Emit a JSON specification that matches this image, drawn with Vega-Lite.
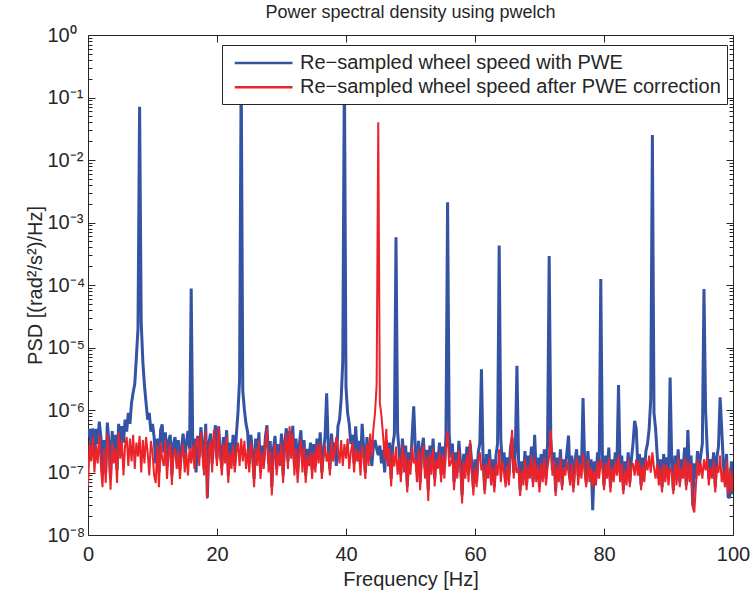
{
"$schema": "https://vega.github.io/schema/vega-lite/v6.json",
"width": 645, "height": 500,
"autosize": {"type": "none"},
"padding": {"left": 88, "top": 35, "right": 17, "bottom": 56},
"background": "white",
"config": {
  "font": "Liberation Sans",
  "view": {"stroke": "#262626", "strokeWidth": 1},
  "axis": {"grid": false, "domain": false, "labelColor": "#262626", "titleColor": "#262626", "tickColor": "#262626", "tickWidth": 1, "labelFontSize": 20, "titleFontSize": 20, "titleFontWeight": "normal", "labelFont": "Liberation Sans", "titleFont": "Liberation Sans"}
},
"title": {"text": "Power spectral density using pwelch", "fontSize": 18, "fontWeight": "normal", "color": "#262626", "font": "Liberation Sans", "offset": 3},
"data": {"values": [
{"freq":0,"pwe":3.7e-7,"corr":6e-8},{"freq":0.25,"pwe":5e-7,"corr":2.85e-7},{"freq":0.5,"pwe":2.4e-7,"corr":1.5e-7},{"freq":0.75,"pwe":5.1e-7,"corr":3.7e-7},
{"freq":1,"pwe":1.5e-7,"corr":1e-7},{"freq":1.25,"pwe":5e-7,"corr":2.7e-7},{"freq":1.5,"pwe":2.85e-7,"corr":1.4e-7},{"freq":1.75,"pwe":6.5e-7,"corr":4e-7},
{"freq":2,"pwe":3.7e-7,"corr":1.27e-7},{"freq":2.25,"pwe":9e-8,"corr":5.8e-8},{"freq":2.5,"pwe":3.3e-7,"corr":2.4e-7},{"freq":2.75,"pwe":1e-7,"corr":6.8e-8},
{"freq":3,"pwe":6.3e-7,"corr":4.2e-7},{"freq":3.25,"pwe":3e-7,"corr":1.9e-7},{"freq":3.5,"pwe":7.9e-8,"corr":5.3e-8},{"freq":3.75,"pwe":4.6e-7,"corr":3e-7},
{"freq":4,"pwe":1.8e-7,"corr":1.4e-7},{"freq":4.25,"pwe":4e-7,"corr":2.4e-7},{"freq":4.5,"pwe":1.1e-7,"corr":6.8e-8},{"freq":4.75,"pwe":6e-7,"corr":4.4e-7},
{"freq":5,"pwe":2.7e-7,"corr":1.66e-7},{"freq":5.25,"pwe":5.5e-7,"corr":3.3e-7},{"freq":5.5,"pwe":3e-7,"corr":9e-8},{"freq":5.75,"pwe":7e-7,"corr":2.7e-7},
{"freq":6,"pwe":4.5e-7,"corr":3.7e-7},{"freq":6.25,"pwe":9e-7,"corr":1.27e-7},{"freq":6.5,"pwe":6e-7,"corr":3.5e-7},{"freq":6.75,"pwe":1.3e-6,"corr":1.5e-7},
{"freq":7,"pwe":1.9e-6,"corr":4e-7},{"freq":7.25,"pwe":2.6e-6,"corr":1.14e-7},{"freq":7.5,"pwe":7e-6,"corr":3e-7},{"freq":7.75,"pwe":2e-5,"corr":1.8e-7},
{"freq":8,"pwe":7.1e-2,"corr":3.85e-7},{"freq":8.25,"pwe":2.5e-5,"corr":1e-7},{"freq":8.5,"pwe":6e-6,"corr":3.3e-7},{"freq":8.75,"pwe":2.5e-6,"corr":1.4e-7},
{"freq":9,"pwe":1.3e-6,"corr":3.7e-7},{"freq":9.25,"pwe":7e-7,"corr":2.1e-7},{"freq":9.5,"pwe":9e-7,"corr":9e-8},{"freq":9.75,"pwe":4.5e-7,"corr":3.2e-7},
{"freq":10,"pwe":6e-7,"corr":2.1e-7},{"freq":10.25,"pwe":3.7e-7,"corr":9e-8},{"freq":10.5,"pwe":1.4e-7,"corr":6.8e-8},{"freq":10.75,"pwe":3.5e-7,"corr":2.7e-7},
{"freq":11,"pwe":1e-7,"corr":5.8e-8},{"freq":11.25,"pwe":4.75e-7,"corr":3e-7},{"freq":11.5,"pwe":5.9e-7,"corr":1.66e-7},{"freq":11.75,"pwe":2.1e-7,"corr":1.27e-7},
{"freq":12,"pwe":4.4e-7,"corr":3.3e-7},{"freq":12.25,"pwe":1.27e-7,"corr":7.9e-8},{"freq":12.5,"pwe":3.2e-7,"corr":2.1e-7},{"freq":12.75,"pwe":4e-7,"corr":2.85e-7},
{"freq":13,"pwe":9e-8,"corr":6.3e-8},{"freq":13.25,"pwe":2.85e-7,"corr":1.94e-7},{"freq":13.5,"pwe":3.7e-7,"corr":2.4e-7},{"freq":13.75,"pwe":1.66e-7,"corr":1.14e-7},
{"freq":14,"pwe":3.3e-7,"corr":2.2e-7},{"freq":14.25,"pwe":1.14e-7,"corr":7.9e-8},{"freq":14.5,"pwe":2.5e-7,"corr":1.8e-7},{"freq":14.75,"pwe":4.2e-7,"corr":2.85e-7},
{"freq":15,"pwe":1.5e-7,"corr":1e-7},{"freq":15.25,"pwe":3e-7,"corr":2.1e-7},{"freq":15.5,"pwe":4.6e-7,"corr":9e-8},{"freq":15.75,"pwe":2.4e-7,"corr":2.5e-7},
{"freq":16,"pwe":8.8e-5,"corr":1.4e-7},{"freq":16.25,"pwe":2.1e-7,"corr":2.7e-7},{"freq":16.5,"pwe":3.5e-7,"corr":1.14e-7},{"freq":16.75,"pwe":1e-7,"corr":3e-7},
{"freq":17,"pwe":3.85e-7,"corr":3.7e-7},{"freq":17.25,"pwe":1.8e-7,"corr":1.27e-7},{"freq":17.5,"pwe":5.3e-7,"corr":4.4e-7},{"freq":17.75,"pwe":2.7e-7,"corr":1.94e-7},
{"freq":18,"pwe":1.14e-7,"corr":9e-8},{"freq":18.25,"pwe":6e-7,"corr":4.75e-7},{"freq":18.5,"pwe":4e-8,"corr":3.8e-8},{"freq":18.75,"pwe":3e-7,"corr":2.4e-7},
{"freq":19,"pwe":4.2e-7,"corr":3.2e-7},{"freq":19.25,"pwe":1.4e-7,"corr":1e-7},{"freq":19.5,"pwe":3e-7,"corr":4.75e-7},{"freq":19.75,"pwe":5.7e-7,"corr":2.7e-7},
{"freq":20,"pwe":1.66e-7,"corr":1.27e-7},{"freq":20.25,"pwe":5.5e-7,"corr":5.4e-7},{"freq":20.5,"pwe":2.2e-7,"corr":1.8e-7},{"freq":20.75,"pwe":1.27e-7,"corr":9e-8},
{"freq":21,"pwe":3.7e-7,"corr":2.85e-7},{"freq":21.25,"pwe":1.94e-7,"corr":1.4e-7},{"freq":21.5,"pwe":4.75e-7,"corr":3.7e-7},{"freq":21.75,"pwe":9e-8,"corr":6.8e-8},
{"freq":22,"pwe":3e-7,"corr":2.1e-7},{"freq":22.25,"pwe":1.66e-7,"corr":1.14e-7},{"freq":22.5,"pwe":4e-7,"corr":2.7e-7},{"freq":22.75,"pwe":1.27e-7,"corr":1e-7},
{"freq":23,"pwe":4e-7,"corr":2.1e-7},{"freq":23.25,"pwe":9e-7,"corr":3e-7},{"freq":23.5,"pwe":3e-6,"corr":1.27e-7},{"freq":23.75,"pwe":0.3,"corr":3.5e-7},
{"freq":24,"pwe":2e-6,"corr":1.5e-7},{"freq":24.25,"pwe":1e-6,"corr":3.2e-7},{"freq":24.5,"pwe":6e-7,"corr":1.14e-7},{"freq":24.75,"pwe":4.4e-7,"corr":2.4e-7},
{"freq":25,"pwe":1.4e-7,"corr":1e-7},{"freq":25.25,"pwe":4e-7,"corr":3e-7},{"freq":25.5,"pwe":2.1e-7,"corr":1.66e-7},{"freq":25.75,"pwe":7.9e-8,"corr":5.8e-8},
{"freq":26,"pwe":3.5e-7,"corr":2.5e-7},{"freq":26.25,"pwe":1.8e-7,"corr":1.27e-7},{"freq":26.5,"pwe":4.4e-7,"corr":3.2e-7},{"freq":26.75,"pwe":1e-7,"corr":7.9e-8},
{"freq":27,"pwe":2.7e-7,"corr":2.1e-7},{"freq":27.25,"pwe":1.5e-7,"corr":1.14e-7},{"freq":27.5,"pwe":3.7e-7,"corr":2.7e-7},{"freq":27.75,"pwe":5.7e-7,"corr":5.1e-7},
{"freq":28,"pwe":1.4e-7,"corr":1e-7},{"freq":28.25,"pwe":3.2e-7,"corr":2.2e-7},{"freq":28.5,"pwe":5.8e-8,"corr":4.3e-8},{"freq":28.75,"pwe":2.4e-7,"corr":1.8e-7},
{"freq":29,"pwe":3.85e-7,"corr":2.85e-7},{"freq":29.25,"pwe":1.14e-7,"corr":9e-8},{"freq":29.5,"pwe":2.85e-7,"corr":2.1e-7},{"freq":29.75,"pwe":1.66e-7,"corr":1.27e-7},
{"freq":30,"pwe":4.2e-7,"corr":3e-7},{"freq":30.25,"pwe":9e-8,"corr":6.8e-8},{"freq":30.5,"pwe":3e-7,"corr":2.4e-7},{"freq":30.75,"pwe":5.1e-7,"corr":4.2e-7},
{"freq":31,"pwe":1.5e-7,"corr":1.14e-7},{"freq":31.25,"pwe":4.6e-7,"corr":5.5e-7},{"freq":31.5,"pwe":2.1e-7,"corr":1.66e-7},{"freq":31.75,"pwe":5.6e-7,"corr":4e-7},
{"freq":32,"pwe":1.27e-7,"corr":9e-8},{"freq":32.25,"pwe":3.5e-7,"corr":2.4e-7},{"freq":32.5,"pwe":1e-7,"corr":6.8e-8},{"freq":32.75,"pwe":2.7e-7,"corr":1.94e-7},
{"freq":33,"pwe":4.75e-7,"corr":3.3e-7},{"freq":33.25,"pwe":1.4e-7,"corr":1e-7},{"freq":33.5,"pwe":3.3e-7,"corr":2.5e-7},{"freq":33.75,"pwe":9e-8,"corr":6.8e-8},
{"freq":34,"pwe":2.4e-7,"corr":1.8e-7},{"freq":34.25,"pwe":1.5e-7,"corr":1.27e-7},{"freq":34.5,"pwe":3e-7,"corr":2.1e-7},{"freq":34.75,"pwe":1.14e-7,"corr":7.9e-8},
{"freq":35,"pwe":2.85e-7,"corr":2.2e-7},{"freq":35.25,"pwe":1.27e-7,"corr":1e-7},{"freq":35.5,"pwe":3.5e-7,"corr":2.85e-7},{"freq":35.75,"pwe":1.8e-7,"corr":1.4e-7},
{"freq":36,"pwe":4.4e-7,"corr":3e-7},{"freq":36.25,"pwe":1e-7,"corr":7.9e-8},{"freq":36.5,"pwe":2.2e-7,"corr":1.66e-7},{"freq":36.75,"pwe":3.7e-7,"corr":2.7e-7},
{"freq":37,"pwe":1.85e-6,"corr":1.5e-7},{"freq":37.25,"pwe":2.5e-7,"corr":2.1e-7},{"freq":37.5,"pwe":1.14e-7,"corr":9e-8},{"freq":37.75,"pwe":4.2e-7,"corr":3.2e-7},
{"freq":38,"pwe":1.94e-7,"corr":1.5e-7},{"freq":38.25,"pwe":3e-7,"corr":2.2e-7},{"freq":38.5,"pwe":1.27e-7,"corr":3.7e-7},{"freq":38.75,"pwe":5.5e-7,"corr":2.4e-7},
{"freq":39,"pwe":7e-7,"corr":1.4e-7},{"freq":39.25,"pwe":1.5e-6,"corr":3.3e-7},{"freq":39.5,"pwe":6e-6,"corr":1.27e-7},{"freq":39.75,"pwe":0.3,"corr":2.85e-7},
{"freq":40,"pwe":2.3e-6,"corr":1.66e-7},{"freq":40.25,"pwe":9e-7,"corr":3.5e-7},{"freq":40.5,"pwe":6e-7,"corr":1.14e-7},{"freq":40.75,"pwe":2.85e-7,"corr":2.1e-7},
{"freq":41,"pwe":4e-7,"corr":3e-7},{"freq":41.25,"pwe":1.4e-7,"corr":1e-7},{"freq":41.5,"pwe":5.5e-7,"corr":2.4e-7},{"freq":41.75,"pwe":1.94e-7,"corr":1.5e-7},
{"freq":42,"pwe":3.2e-7,"corr":2.2e-7},{"freq":42.25,"pwe":1.27e-7,"corr":9e-8},{"freq":42.5,"pwe":6e-7,"corr":2.7e-7},{"freq":42.75,"pwe":2.4e-7,"corr":1.8e-7},
{"freq":43,"pwe":1e-7,"corr":7.9e-8},{"freq":43.25,"pwe":3.7e-7,"corr":2.85e-7},{"freq":43.5,"pwe":1.66e-7,"corr":1.27e-7},{"freq":43.75,"pwe":2.85e-7,"corr":4.2e-7},
{"freq":44,"pwe":1.27e-7,"corr":1.8e-7},{"freq":44.25,"pwe":2.7e-7,"corr":5e-7},{"freq":44.5,"pwe":3.3e-7,"corr":9e-7},{"freq":44.75,"pwe":2.4e-7,"corr":2.5e-6},
{"freq":45,"pwe":1.9e-7,"corr":4e-2},{"freq":45.25,"pwe":2.7e-7,"corr":1.3e-6},{"freq":45.5,"pwe":1.4e-7,"corr":8e-7},{"freq":45.75,"pwe":2.3e-7,"corr":3.9e-7},
{"freq":46,"pwe":1e-7,"corr":1.6e-7},{"freq":46.25,"pwe":3.3e-7,"corr":5e-7},{"freq":46.5,"pwe":1.6e-7,"corr":1.25e-7},{"freq":46.75,"pwe":3e-7,"corr":2.4e-7},
{"freq":47,"pwe":8e-8,"corr":6e-8},{"freq":47.25,"pwe":2.7e-7,"corr":2e-7},{"freq":47.5,"pwe":4.1e-7,"corr":1.25e-7},{"freq":47.75,"pwe":5.8e-4,"corr":2.6e-7},
{"freq":48,"pwe":4.5e-7,"corr":9.2e-8},{"freq":48.25,"pwe":2.1e-7,"corr":1.75e-7},{"freq":48.5,"pwe":9.2e-8,"corr":7e-8},{"freq":48.75,"pwe":3.5e-7,"corr":2.7e-7},
{"freq":49,"pwe":1.4e-7,"corr":1e-7},{"freq":49.25,"pwe":2.7e-7,"corr":2e-7},{"freq":49.5,"pwe":6e-8,"corr":4.8e-8},{"freq":49.75,"pwe":2.1e-7,"corr":1.6e-7},
{"freq":50,"pwe":1.25e-7,"corr":9.2e-8},{"freq":50.25,"pwe":3.8e-7,"corr":2.7e-7},{"freq":50.5,"pwe":1.15e-6,"corr":1.4e-7},{"freq":50.75,"pwe":2.4e-7,"corr":1.75e-7},
{"freq":51,"pwe":1e-7,"corr":7e-8},{"freq":51.25,"pwe":3.2e-7,"corr":2.3e-7},{"freq":51.5,"pwe":7e-8,"corr":5.2e-8},{"freq":51.75,"pwe":2.4e-7,"corr":1.9e-7},
{"freq":52,"pwe":3.6e-7,"corr":2.7e-7},{"freq":52.25,"pwe":1.15e-7,"corr":8e-8},{"freq":52.5,"pwe":2.3e-7,"corr":1.75e-7},{"freq":52.75,"pwe":5.2e-8,"corr":3.5e-8},
{"freq":53,"pwe":2.7e-7,"corr":2e-7},{"freq":53.25,"pwe":1.25e-7,"corr":9.2e-8},{"freq":53.5,"pwe":3.5e-7,"corr":2.4e-7},{"freq":53.75,"pwe":8e-8,"corr":6e-8},
{"freq":54,"pwe":2.1e-7,"corr":1.6e-7},{"freq":54.25,"pwe":1.5e-7,"corr":1.15e-7},{"freq":54.5,"pwe":3e-7,"corr":2.1e-7},{"freq":54.75,"pwe":9.2e-8,"corr":7e-8},
{"freq":55,"pwe":2.6e-7,"corr":1.9e-7},{"freq":55.25,"pwe":1.15e-7,"corr":8e-8},{"freq":55.5,"pwe":4e-7,"corr":2.4e-7},{"freq":55.75,"pwe":2.1e-3,"corr":4.6e-7},
{"freq":56,"pwe":4e-7,"corr":1.25e-7},{"freq":56.25,"pwe":1.75e-7,"corr":1.4e-7},{"freq":56.5,"pwe":2.9e-7,"corr":2.1e-7},{"freq":56.75,"pwe":7e-8,"corr":5.2e-8},
{"freq":57,"pwe":2.1e-7,"corr":1.6e-7},{"freq":57.25,"pwe":1e-7,"corr":8e-8},{"freq":57.5,"pwe":3.2e-7,"corr":2.3e-7},{"freq":57.75,"pwe":1.5e-7,"corr":1.15e-7},
{"freq":58,"pwe":4.3e-8,"corr":3.2e-8},{"freq":58.25,"pwe":2e-7,"corr":1.5e-7},{"freq":58.5,"pwe":1.15e-7,"corr":8e-8},{"freq":58.75,"pwe":2.6e-7,"corr":1.9e-7},
{"freq":59,"pwe":9.2e-8,"corr":7e-8},{"freq":59.25,"pwe":2.9e-7,"corr":3.3e-7},{"freq":59.5,"pwe":1.4e-7,"corr":1e-7},{"freq":59.75,"pwe":6e-8,"corr":4.3e-8},
{"freq":60,"pwe":1.63e-7,"corr":1.19e-7},{"freq":60.25,"pwe":7e-8,"corr":5.8e-8},{"freq":60.5,"pwe":2.1e-7,"corr":1.51e-7},{"freq":60.75,"pwe":2.9e-7,"corr":2.1e-7},
{"freq":61,"pwe":4.5e-6,"corr":1.08e-7},{"freq":61.25,"pwe":1.63e-7,"corr":1.29e-7},{"freq":61.5,"pwe":5.2e-8,"corr":4.5e-8},{"freq":61.75,"pwe":1.98e-7,"corr":1.4e-7},
{"freq":62,"pwe":1.08e-7,"corr":8e-8},{"freq":62.25,"pwe":2.35e-7,"corr":1.74e-7},{"freq":62.5,"pwe":8e-8,"corr":6.2e-8},{"freq":62.75,"pwe":1.63e-7,"corr":1.19e-7},
{"freq":63,"pwe":5.8e-8,"corr":4.8e-8},{"freq":63.25,"pwe":1.86e-7,"corr":1.4e-7},{"freq":63.5,"pwe":2.9e-7,"corr":8.9e-8},{"freq":63.75,"pwe":4.3e-4,"corr":2.35e-7},
{"freq":64,"pwe":3.5e-7,"corr":7e-8},{"freq":64.25,"pwe":1.19e-7,"corr":1.51e-7},{"freq":64.5,"pwe":2.1e-7,"corr":9.9e-8},{"freq":64.75,"pwe":7e-8,"corr":5.8e-8},
{"freq":65,"pwe":1.74e-7,"corr":1.29e-7},{"freq":65.25,"pwe":8.9e-8,"corr":6.2e-8},{"freq":65.5,"pwe":2.5e-7,"corr":1.86e-7},{"freq":65.75,"pwe":3.6e-7,"corr":4.8e-7},
{"freq":66,"pwe":9.9e-8,"corr":8e-8},{"freq":66.25,"pwe":2.1e-7,"corr":1.63e-7},{"freq":66.5,"pwe":5.1e-6,"corr":9.9e-8},{"freq":66.75,"pwe":1.63e-7,"corr":1.19e-7},
{"freq":67,"pwe":5.2e-8,"corr":4.2e-8},{"freq":67.25,"pwe":1.51e-7,"corr":1.08e-7},{"freq":67.5,"pwe":8e-8,"corr":6.2e-8},{"freq":67.75,"pwe":2.2e-7,"corr":1.63e-7},
{"freq":68,"pwe":6.2e-8,"corr":5.2e-8},{"freq":68.25,"pwe":1.86e-7,"corr":1.29e-7},{"freq":68.5,"pwe":1.08e-7,"corr":8e-8},{"freq":68.75,"pwe":2.6e-7,"corr":1.86e-7},
{"freq":69,"pwe":7e-8,"corr":5.8e-8},{"freq":69.25,"pwe":4e-7,"corr":1.63e-7},{"freq":69.5,"pwe":8.9e-8,"corr":7e-8},{"freq":69.75,"pwe":1.74e-7,"corr":1.29e-7},
{"freq":70,"pwe":5.8e-8,"corr":4.8e-8},{"freq":70.25,"pwe":1.98e-7,"corr":1.4e-7},{"freq":70.5,"pwe":9.9e-8,"corr":7e-8},{"freq":70.75,"pwe":2.35e-7,"corr":1.74e-7},
{"freq":71,"pwe":8e-8,"corr":6.2e-8},{"freq":71.25,"pwe":2.9e-7,"corr":1.19e-7},{"freq":71.5,"pwe":2.9e-4,"corr":1.86e-7},{"freq":71.75,"pwe":3.6e-7,"corr":4.8e-7},
{"freq":72,"pwe":1.08e-7,"corr":8.9e-8},{"freq":72.25,"pwe":2.1e-7,"corr":1.51e-7},{"freq":72.5,"pwe":5e-8,"corr":4.2e-8},{"freq":72.75,"pwe":1.74e-7,"corr":1.29e-7},
{"freq":73,"pwe":8.9e-8,"corr":7e-8},{"freq":73.25,"pwe":2.35e-7,"corr":1.74e-7},{"freq":73.5,"pwe":6.2e-8,"corr":5.2e-8},{"freq":73.75,"pwe":1.63e-7,"corr":1.19e-7},
{"freq":74,"pwe":1.19e-7,"corr":8.9e-8},{"freq":74.25,"pwe":2.1e-7,"corr":1.51e-7},{"freq":74.5,"pwe":3.9e-7,"corr":9.9e-8},{"freq":74.75,"pwe":8e-8,"corr":6.2e-8},
{"freq":75,"pwe":1.86e-7,"corr":1.4e-7},{"freq":75.25,"pwe":5.8e-8,"corr":4.8e-8},{"freq":75.5,"pwe":1.51e-7,"corr":1.08e-7},{"freq":75.75,"pwe":2.35e-7,"corr":1.74e-7},
{"freq":76,"pwe":8.9e-8,"corr":6.2e-8},{"freq":76.25,"pwe":1.86e-7,"corr":1.4e-7},{"freq":76.5,"pwe":1.08e-7,"corr":8e-8},{"freq":76.75,"pwe":1.55e-6,"corr":1.98e-7},
{"freq":77,"pwe":1.4e-7,"corr":9.9e-8},{"freq":77.25,"pwe":7e-8,"corr":5.8e-8},{"freq":77.5,"pwe":2.2e-7,"corr":1.63e-7},{"freq":77.75,"pwe":9.9e-8,"corr":7e-8},
{"freq":78,"pwe":1.63e-7,"corr":1.19e-7},{"freq":78.25,"pwe":2.5e-8,"corr":5.8e-8},{"freq":78.5,"pwe":1.51e-7,"corr":1.08e-7},{"freq":78.75,"pwe":8e-8,"corr":6.2e-8},
{"freq":79,"pwe":2.1e-7,"corr":1.51e-7},{"freq":79.25,"pwe":1.08e-7,"corr":8e-8},{"freq":79.5,"pwe":1.25e-4,"corr":1.63e-7},{"freq":79.75,"pwe":1.98e-7,"corr":1.19e-7},
{"freq":80,"pwe":6.2e-8,"corr":5.2e-8},{"freq":80.25,"pwe":1.86e-7,"corr":1.4e-7},{"freq":80.5,"pwe":1.08e-7,"corr":8e-8},{"freq":80.75,"pwe":2.5e-7,"corr":1.74e-7},
{"freq":81,"pwe":5.8e-8,"corr":4.8e-8},{"freq":81.25,"pwe":1.63e-7,"corr":1.19e-7},{"freq":81.5,"pwe":8.9e-8,"corr":7e-8},{"freq":81.75,"pwe":2.1e-7,"corr":1.51e-7},
{"freq":82,"pwe":1.19e-7,"corr":8.9e-8},{"freq":82.25,"pwe":2.5e-6,"corr":1.86e-7},{"freq":82.5,"pwe":9.9e-8,"corr":7e-8},{"freq":82.75,"pwe":1.86e-7,"corr":1.4e-7},
{"freq":83,"pwe":5.2e-8,"corr":4.5e-8},{"freq":83.25,"pwe":1.51e-7,"corr":1.08e-7},{"freq":83.5,"pwe":8.9e-8,"corr":6.2e-8},{"freq":83.75,"pwe":2.1e-7,"corr":1.63e-7},
{"freq":84,"pwe":7e-8,"corr":5.8e-8},{"freq":84.25,"pwe":1.63e-7,"corr":1.19e-7},{"freq":84.5,"pwe":2.9e-7,"corr":1.4e-7},{"freq":84.75,"pwe":6.7e-7,"corr":8.9e-8},
{"freq":85,"pwe":5e-7,"corr":1.63e-7},{"freq":85.25,"pwe":1.19e-7,"corr":8.9e-8},{"freq":85.5,"pwe":1.98e-7,"corr":1.51e-7},{"freq":85.75,"pwe":6.2e-8,"corr":5.2e-8},
{"freq":86,"pwe":1.74e-7,"corr":1.29e-7},{"freq":86.25,"pwe":9.9e-8,"corr":7e-8},{"freq":86.5,"pwe":2.2e-7,"corr":1.63e-7},{"freq":86.75,"pwe":2.9e-7,"corr":1.08e-7},
{"freq":87,"pwe":5e-7,"corr":1.86e-7},{"freq":87.25,"pwe":1.5e-6,"corr":9.9e-8},{"freq":87.5,"pwe":2.5e-2,"corr":2.1e-7},{"freq":87.75,"pwe":9e-7,"corr":1.19e-7},
{"freq":88,"pwe":5e-7,"corr":8e-8},{"freq":88.25,"pwe":1.86e-7,"corr":1.4e-7},{"freq":88.5,"pwe":8e-8,"corr":6.2e-8},{"freq":88.75,"pwe":1.63e-7,"corr":1.19e-7},
{"freq":89,"pwe":5.8e-8,"corr":4.8e-8},{"freq":89.25,"pwe":1.98e-7,"corr":1.4e-7},{"freq":89.5,"pwe":9.9e-8,"corr":7e-8},{"freq":89.75,"pwe":1.74e-7,"corr":1.29e-7},
{"freq":90,"pwe":8e-8,"corr":6.2e-8},{"freq":90.25,"pwe":3.3e-6,"corr":1.19e-7},{"freq":90.5,"pwe":1.51e-7,"corr":1.08e-7},{"freq":90.75,"pwe":5.2e-8,"corr":4.5e-8},
{"freq":91,"pwe":1.86e-7,"corr":1.4e-7},{"freq":91.25,"pwe":8.9e-8,"corr":6.2e-8},{"freq":91.5,"pwe":2.35e-7,"corr":1.74e-7},{"freq":91.75,"pwe":7e-8,"corr":5.8e-8},
{"freq":92,"pwe":1.63e-7,"corr":1.19e-7},{"freq":92.25,"pwe":1.08e-7,"corr":8e-8},{"freq":92.5,"pwe":2.5e-7,"corr":1.74e-7},{"freq":92.75,"pwe":6.2e-8,"corr":5.2e-8},
{"freq":93,"pwe":4.8e-7,"corr":1.51e-7},{"freq":93.25,"pwe":9.9e-8,"corr":7e-8},{"freq":93.5,"pwe":1.86e-7,"corr":1.4e-7},{"freq":93.75,"pwe":3e-8,"corr":2.8e-8},
{"freq":94,"pwe":1.4e-7,"corr":2.3e-8},{"freq":94.25,"pwe":8e-8,"corr":6.2e-8},{"freq":94.5,"pwe":2.2e-7,"corr":1.63e-7},{"freq":94.75,"pwe":1.19e-7,"corr":8.9e-8},
{"freq":95,"pwe":1.86e-7,"corr":1.4e-7},{"freq":95.25,"pwe":2.9e-7,"corr":8e-8},{"freq":95.5,"pwe":8.6e-5,"corr":1.63e-7},{"freq":95.75,"pwe":1e-6,"corr":1.08e-7},
{"freq":96,"pwe":2.35e-7,"corr":1.74e-7},{"freq":96.25,"pwe":8e-8,"corr":6.2e-8},{"freq":96.5,"pwe":1.63e-7,"corr":1.19e-7},{"freq":96.75,"pwe":1.08e-7,"corr":8e-8},
{"freq":97,"pwe":2.1e-7,"corr":1.51e-7},{"freq":97.25,"pwe":5.8e-8,"corr":4.8e-8},{"freq":97.5,"pwe":1.74e-7,"corr":1.29e-7},{"freq":97.75,"pwe":2.6e-7,"corr":9.9e-8},
{"freq":98,"pwe":1.6e-6,"corr":1.86e-7},{"freq":98.25,"pwe":5e-7,"corr":7e-8},{"freq":98.5,"pwe":1.4e-7,"corr":1.08e-7},{"freq":98.75,"pwe":7e-8,"corr":5.8e-8},
{"freq":99,"pwe":1.98e-7,"corr":1.51e-7},{"freq":99.25,"pwe":4e-8,"corr":4.5e-8},{"freq":99.5,"pwe":4e-8,"corr":1.19e-7},{"freq":99.75,"pwe":1.51e-7,"corr":4.8e-8},
{"freq":100,"pwe":4.5e-8,"corr":9.9e-8}
]},
"layer": [
  {
    "mark": {"type": "line", "strokeWidth": 3, "strokeJoin": "bevel", "clip": true},
    "encoding": {
      "x": {"field": "freq", "type": "quantitative", "scale": {"domain": [0, 100], "nice": false, "zero": false},
            "axis": {"orient": "bottom", "values": [0, 20, 40, 60, 80, 100], "format": "d", "tickSize": -7, "labelPadding": 16, "labelFlush": false, "title": "Frequency [Hz]", "titlePadding": 5}},
      "y": {"field": "pwe", "type": "quantitative", "scale": {"type": "log", "domain": [1e-8, 1], "nice": false},
            "axis": {"orient": "left",
              "values": [1e-8,2e-8,3e-8,4e-8,5e-8,6e-8,7e-8,8e-8,9e-8,1e-7,2e-7,3e-7,4e-7,5e-7,6e-7,7e-7,8e-7,9e-7,1e-6,2e-6,3e-6,4e-6,5e-6,6e-6,7e-6,8e-6,9e-6,1e-5,2e-5,3e-5,4e-5,5e-5,6e-5,7e-5,8e-5,9e-5,1e-4,2e-4,3e-4,4e-4,5e-4,6e-4,7e-4,8e-4,9e-4,1e-3,2e-3,3e-3,4e-3,5e-3,6e-3,7e-3,8e-3,9e-3,1e-2,2e-2,3e-2,4e-2,5e-2,6e-2,7e-2,8e-2,9e-2,0.1,0.2,0.3,0.4,0.5,0.6,0.7,0.8,0.9,1],
              "labelExpr": "abs(log(datum.value)/LN10 - round(log(datum.value)/LN10)) < 0.001 ? ['10⁰','10⁻¹','10⁻²','10⁻³','10⁻⁴','10⁻⁵','10⁻⁶','10⁻⁷','10⁻⁸'][-round(log(datum.value)/LN10)] : ''",
              "tickSize": -7,
              "tickDash": {"condition": {"test": "abs(log(datum.value)/LN10 - round(log(datum.value)/LN10)) < 0.001", "value": [8, 0]}, "value": [4, 30]},
              "labelAlign": "left", "labelBaseline": "middle", "labelPadding": 48, "labelOverlap": false, "labelFlush": false,
              "title": "PSD [(rad²/s²)/Hz]", "titlePadding": 2}},
      "color": {"datum": "Re−sampled wheel speed with PWE", "type": "nominal",
        "scale": {"domain": ["Re−sampled wheel speed with PWE", "Re−sampled wheel speed after PWE correction"], "range": ["#3553A4", "#EC2329"]},
        "legend": {"orient": "none", "legendX": 134, "legendY": 10, "title": null, "symbolType": "M-0.5,0H5", "symbolSize": 441, "symbolStrokeWidth": 2.5,
          "labelFontSize": 20, "labelFont": "Liberation Sans", "labelColor": "#262626", "labelLimit": 700, "labelOffset": 48,
          "strokeColor": "#262626", "fillColor": "white", "padding": 6, "rowPadding": 2.3}}
    }
  },
  {
    "mark": {"type": "line", "strokeWidth": 2, "strokeJoin": "bevel", "clip": true},
    "encoding": {
      "x": {"field": "freq", "type": "quantitative", "axis": null},
      "y": {"field": "corr", "type": "quantitative", "scale": {"type": "log"}, "axis": null},
      "color": {"datum": "Re−sampled wheel speed after PWE correction", "type": "nominal"}
    }
  },
  {
    "mark": {"type": "line", "opacity": 0, "clip": true},
    "encoding": {
      "x": {"field": "freq", "type": "quantitative", "axis": {"orient": "top", "values": [0, 20, 40, 60, 80, 100], "tickSize": -7, "labels": false, "title": null}},
      "y": {"field": "pwe", "type": "quantitative", "scale": {"type": "log"},
            "axis": {"orient": "right", "labels": false, "title": null, "tickSize": -7,
              "values": [1e-8,2e-8,3e-8,4e-8,5e-8,6e-8,7e-8,8e-8,9e-8,1e-7,2e-7,3e-7,4e-7,5e-7,6e-7,7e-7,8e-7,9e-7,1e-6,2e-6,3e-6,4e-6,5e-6,6e-6,7e-6,8e-6,9e-6,1e-5,2e-5,3e-5,4e-5,5e-5,6e-5,7e-5,8e-5,9e-5,1e-4,2e-4,3e-4,4e-4,5e-4,6e-4,7e-4,8e-4,9e-4,1e-3,2e-3,3e-3,4e-3,5e-3,6e-3,7e-3,8e-3,9e-3,1e-2,2e-2,3e-2,4e-2,5e-2,6e-2,7e-2,8e-2,9e-2,0.1,0.2,0.3,0.4,0.5,0.6,0.7,0.8,0.9,1],
              "tickDash": {"condition": {"test": "abs(log(datum.value)/LN10 - round(log(datum.value)/LN10)) < 0.001", "value": [8, 0]}, "value": [4, 30]}}}
    }
  }
],
"resolve": {"axis": {"x": "independent", "y": "independent"}}
}
